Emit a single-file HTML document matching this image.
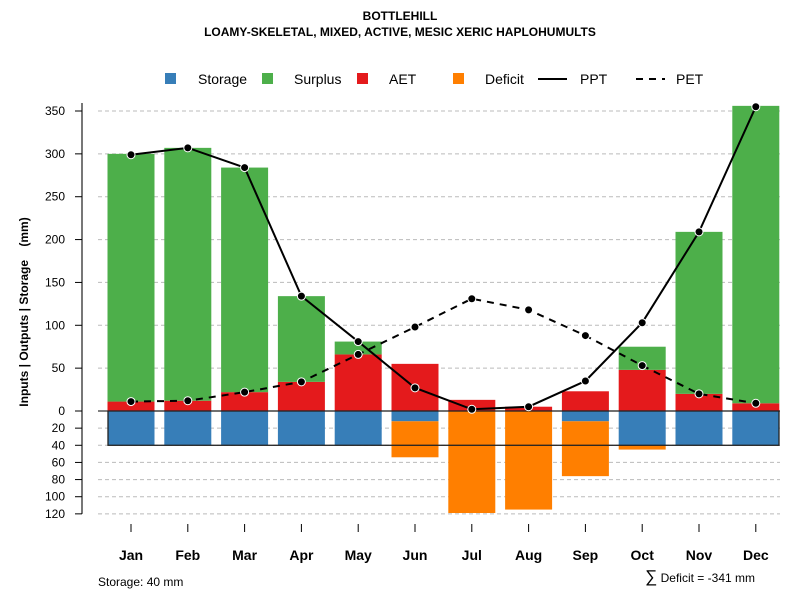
<!DOCTYPE html>
<html><head><meta charset="utf-8"><style>
body{margin:0;background:#fff;}
svg text{font-family:"Liberation Sans",sans-serif;}
</style></head><body>
<svg id="c" width="800" height="600" xmlns="http://www.w3.org/2000/svg">
<text x="400" y="20" text-anchor="middle" font-size="12" font-weight="bold">BOTTLEHILL</text>
<text x="400" y="36" text-anchor="middle" font-size="12" font-weight="bold">LOAMY-SKELETAL, MIXED, ACTIVE, MESIC XERIC HAPLOHUMULTS</text>
<g id="legend">
<rect x="165" y="73" width="11" height="11" fill="#377EB8"/><text x="198" y="84" font-size="14">Storage</text>
<rect x="262" y="73" width="11" height="11" fill="#4DAF4A"/><text x="294" y="84" font-size="14">Surplus</text>
<rect x="357" y="73" width="11" height="11" fill="#E41A1C"/><text x="389" y="84" font-size="14">AET</text>
<rect x="453" y="73" width="11" height="11" fill="#FF7F00"/><text x="485" y="84" font-size="14">Deficit</text>
<line x1="538" y1="79" x2="567" y2="79" stroke="#000" stroke-width="2"/><text x="580" y="84" font-size="14">PPT</text>
<line x1="636" y1="79" x2="665" y2="79" stroke="#000" stroke-width="2" stroke-dasharray="7,6"/><text x="676" y="84" font-size="14">PET</text>
</g>
<text transform="translate(28,312) rotate(-90)" text-anchor="middle" font-size="12" font-weight="bold" style="white-space:pre">Inputs | Outputs | Storage    (mm)</text>
<text x="98" y="586" font-size="12">Storage: 40 mm</text>
<text x="755" y="582" text-anchor="end" font-size="12"><tspan font-size="17">∑</tspan> Deficit = -341 mm</text>
</svg>
<script>
const months=["Jan","Feb","Mar","Apr","May","Jun","Jul","Aug","Sep","Oct","Nov","Dec"];
const ppt=[299,307,284,134,81,27,2,5,35,103,209,355];
const pet=[11,12,22,34,66,98,131,118,88,53,20,9];
const aet=[11,12,22,34,66,55,13,5,23,48,20,9];
const surplus=[289,295,262,100,15,0,0,0,0,27,189,347];
const storage=[40,40,40,40,40,12,0,0,12,40,40,40];
const deficit=[0,0,0,0,0,42,119,115,64,5,0,0];
const posTicks=[0,50,100,150,200,250,300,350];
const negTicks=[20,40,60,80,100,120];
const storageCap=40;
const svg=document.getElementById('c');const NS="http://www.w3.org/2000/svg";
const y0=411,k=300/350;
const Y=v=>y0-v*k;
const X=i=>131+i*56.8;
const bw=47;
function el(t,a,p){const e=document.createElementNS(NS,t);for(const q in a)e.setAttribute(q,a[q]);(p||svg).appendChild(e);return e;}
const g=el('g',{});


posTicks.concat(negTicks.map(v=>-v)).forEach(v=>{
 if(v===0)return;
 const l=el('line',{x1:98,x2:780,y1:Y(v),y2:Y(v),stroke:'#bbb','stroke-dasharray':'4,3'},g);
 
 
});
const ax=el('line',{x1:82,x2:82,y1:Y(350)-8,y2:Y(-120),stroke:'#777','stroke-width':2},g);


posTicks.concat(negTicks.map(v=>-v)).forEach(v=>{
 el('line',{x1:75,x2:82,y1:Y(v),y2:Y(v),stroke:'#000'},g);
 const t=el('text',{x:65,y:Y(v)+4,'text-anchor':'end','font-size':12},g);t.textContent=Math.abs(v);
 
 
});
months.forEach((m,i)=>{
 const x=X(i),L=x-bw/2;
 const r=(y1,y2,c,n)=>{if(Math.abs(y2-y1)<0.1)return;const e=el('rect',{x:L,y:Math.min(y1,y2),width:bw,height:Math.abs(y2-y1),fill:c},g);
  
  };
 r(Y(0),Y(aet[i]),'#E41A1C','aet-bar-'+m.toLowerCase());
 r(Y(aet[i]),Y(aet[i]+surplus[i]),'#4DAF4A','surplus-bar-'+m.toLowerCase());
 r(Y(0),Y(-storage[i]),'#377EB8','storage-bar-'+m.toLowerCase());
 r(Y(-storage[i]),Y(-storage[i]-deficit[i]),'#FF7F00','deficit-bar-'+m.toLowerCase());
 el('line',{x1:x,x2:x,y1:524,y2:532,stroke:'#000'},g);
 const t=el('text',{x:x,y:560,'text-anchor':'middle','font-size':14,'font-weight':'bold'},g);t.textContent=m;
 
 
});
el('line',{x1:98,x2:780,y1:Y(0),y2:Y(0),stroke:'#000'},g);
const box=el('rect',{x:108,y:Y(0),width:671,height:storageCap*k,fill:'none',stroke:'#222','stroke-width':1.3},g);


function line(arr,dash,n){
 const p=el('polyline',{points:arr.map((v,i)=>X(i)+','+Y(v)).join(' '),fill:'none',stroke:'#000','stroke-width':2,'stroke-dasharray':dash},g);
 
 
 arr.forEach((v,i)=>{const c=el('circle',{cx:X(i),cy:Y(v),r:4,fill:'#000',stroke:'#fff','stroke-width':1},g);
  
  });
}
line(pet,'7,6','pet');
line(ppt,'none','ppt');
</script>
</body></html>
